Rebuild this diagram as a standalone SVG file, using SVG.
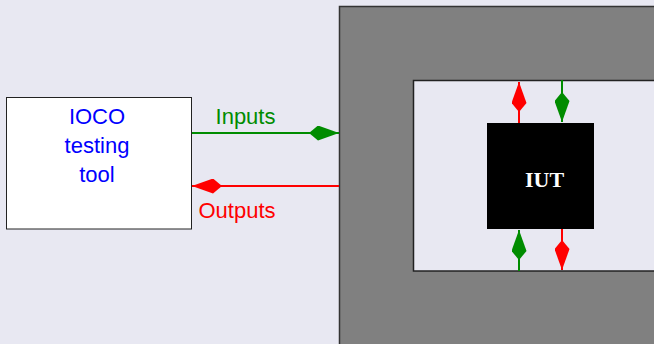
<svg xmlns="http://www.w3.org/2000/svg" width="654" height="344" viewBox="0 0 654 344">
<style>
.lbl{font-family:"Liberation Sans",Arial,sans-serif;font-size:22px;text-anchor:middle}
.g{stroke:#008c00;stroke-width:2;fill:none}
.r{stroke:#ff0000;stroke-width:2;fill:none}
</style>
<defs>
<marker id="mg" viewBox="0 0 30 15" refX="30" refY="7.5" markerWidth="30" markerHeight="15" markerUnits="userSpaceOnUse" orient="auto"><path d="M0,7.5 L9,0 L30,7.5 L9,15 Z" fill="#008c00"/></marker>
<marker id="mr" viewBox="0 0 30 15" refX="30" refY="7.5" markerWidth="30" markerHeight="15" markerUnits="userSpaceOnUse" orient="auto"><path d="M0,7.5 L9,0 L30,7.5 L9,15 Z" fill="#ff0000"/></marker>
</defs>
<rect width="654" height="344" fill="#e8e8f2"/>
<g id="sut">
<rect x="339.5" y="6.5" width="330" height="350" fill="#808080" stroke="#333" stroke-width="1.5"/>
<rect x="413.5" y="80.5" width="260" height="190.5" fill="#e8e8f2" stroke="#222" stroke-width="1.5"/>
</g>
<g id="tool">
<rect x="6.5" y="97.5" width="185" height="131.5" fill="#ffffff" stroke="#222" stroke-width="1"/>
<text class="lbl" x="97" y="124" fill="#0000ff">IOCO</text>
<text class="lbl" x="97" y="153" fill="#0000ff">testing</text>
<text class="lbl" x="97" y="182" fill="#0000ff">tool</text>
</g>
<g id="iut">
<rect x="487" y="123" width="107" height="106" fill="#000000"/>
<text x="544.5" y="187" font-family="Liberation Serif,'Times New Roman',serif" font-weight="bold" font-size="22" fill="#ffffff" text-anchor="middle">IUT</text>
</g>
<g id="connectors">
<line class="g" x1="192" y1="133" x2="339" y2="133" marker-end="url(#mg)"/>
<line class="r" x1="339" y1="186" x2="192" y2="186" marker-end="url(#mr)"/>
<line class="r" x1="519" y1="123" x2="519" y2="82" marker-end="url(#mr)"/>
<line class="g" x1="562" y1="80" x2="562" y2="122" marker-end="url(#mg)"/>
<line class="g" x1="519" y1="271" x2="519" y2="230" marker-end="url(#mg)"/>
<line class="r" x1="562" y1="229" x2="562" y2="270" marker-end="url(#mr)"/>
</g>
<text class="lbl" x="245.5" y="124" fill="#008c00">Inputs</text>
<text class="lbl" x="237" y="218" fill="#ff0000">Outputs</text>
</svg>
